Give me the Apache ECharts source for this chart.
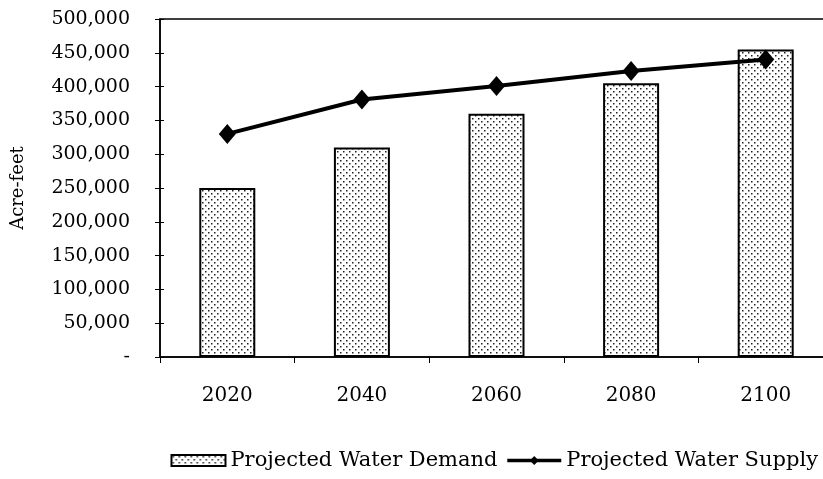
<!DOCTYPE html>
<html>
<head>
<meta charset="utf-8">
<script src="https://cdn.jsdelivr.net/npm/echarts@6/dist/echarts.min.js"></script>
<style>html,body{margin:0;padding:0;background:#fff;}#c{width:823px;height:479px;}</style>
</head>
<body>
<div id="c"></div>
<script>
const categories = ['2020', '2040', '2060', '2080', '2100'];
const demand = [250000, 310000, 360000, 405000, 455000];
const supply = [330000, 381000, 401000, 423000, 440000];
const yTicks = { min: 0, max: 500000, interval: 50000 };

function dotPattern() {
  const c = document.createElement('canvas');
  c.width = 6; c.height = 6;
  const g = c.getContext('2d');
  g.fillStyle = '#ffffff'; g.fillRect(0, 0, 6, 6);
  g.fillStyle = '#222222';
  g.fillRect(1, 1, 1.5, 1.5);
  g.fillRect(4, 4, 1.5, 1.5);
  return { image: c, repeat: 'repeat' };
}
const pat = dotPattern();
const font = 'DejaVu Serif';

const chart = echarts.init(document.getElementById('c'));
chart.setOption({
  animation: false,
  backgroundColor: '#fff',
  grid: { left: 160, right: -10, top: 19, bottom: 122, containLabel: false, outerBoundsMode: 'none',
    show: true, borderColor: '#000', borderWidth: 1.5, backgroundColor: 'transparent' },
  legend: {
    top: 450, right: 5, padding: 0, width: 700, itemWidth: 54, itemHeight: 11, itemGap: 8,
    textStyle: { fontFamily: font, fontSize: 21, color: '#000' },
    data: [
      { name: 'Projected Water Demand', icon: 'rect' },
      { name: 'Projected Water Supply', lineStyle: { width: 3.5, color: '#000' } }
    ]
  },
  xAxis: {
    type: 'category', data: categories, boundaryGap: true,
    axisLine: { lineStyle: { color: '#000', width: 1.5 } },
    axisTick: { show: true, length: 6, lineStyle: { color: '#000' } },
    axisLabel: { fontFamily: font, fontSize: 20, color: '#000', margin: 29 }
  },
  yAxis: [{
    type: 'value', min: yTicks.min, max: yTicks.max, interval: yTicks.interval,
    name: 'Acre-feet', nameLocation: 'middle', nameGap: 133, nameRotate: 90,
    nameTextStyle: { fontFamily: font, fontSize: 18, color: '#000' },
    axisLine: { show: true, lineStyle: { color: '#000', width: 1.5 } },
    axisTick: { show: true, length: 5, lineStyle: { color: '#000' } },
    splitLine: { show: false },
    axisLabel: { fontFamily: font, fontSize: 19, color: '#000', margin: 30,
      formatter: v => v === 0 ? '-' : v.toLocaleString('en-US') }
  }, {
    type: 'value', position: 'left', min: yTicks.min, max: yTicks.max, interval: yTicks.interval,
    axisLine: { show: false }, splitLine: { show: false }, axisLabel: { show: false },
    axisTick: { show: true, inside: true, length: 4, lineStyle: { color: '#000' } }
  }],
  series: [{
    name: 'Projected Water Demand', type: 'bar', data: demand, barWidth: 56,
    itemStyle: { color: pat, borderColor: '#000', borderWidth: 2 }
  }, {
    name: 'Projected Water Supply', type: 'line', data: supply,
    symbol: 'diamond', symbolSize: [17, 20],
    lineStyle: { color: '#000', width: 4 },
    itemStyle: { color: '#000' }
  }]
});
</script>
</body>
</html>
